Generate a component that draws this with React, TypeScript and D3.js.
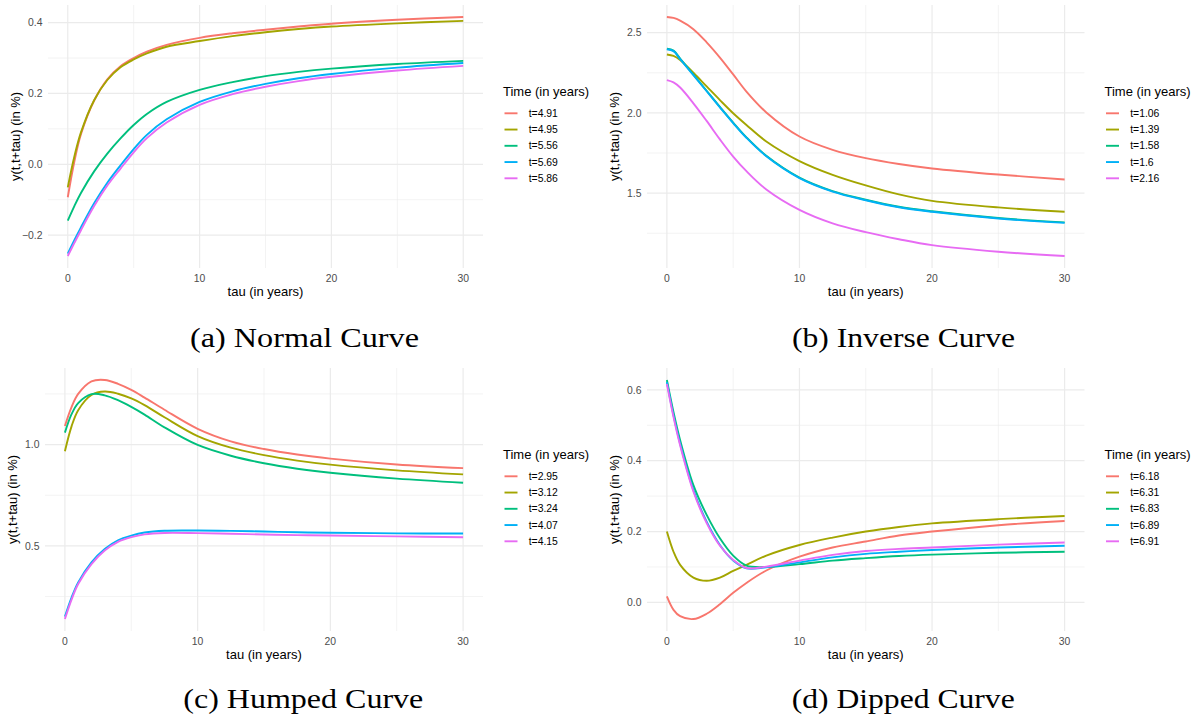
import React from "react";
import * as d3 from "d3";

// ---------- data ----------
const tau = [0, 0.5, 1, 2, 3, 4, 5, 6, 7.5, 10, 12.5, 15, 17.5, 20, 25, 30];

const normalLabels = ["t=4.91", "t=4.95", "t=5.56", "t=5.69", "t=5.86"];
const normal491 = [-0.093, 0.008, 0.085, 0.180, 0.240, 0.277, 0.300, 0.318, 0.337, 0.357, 0.370, 0.380, 0.389, 0.397, 0.408, 0.416];
const normal495 = [-0.065, 0.022, 0.090, 0.181, 0.238, 0.274, 0.296, 0.313, 0.332, 0.348, 0.362, 0.373, 0.382, 0.389, 0.398, 0.405];
const normal556 = [-0.159, -0.118, -0.081, -0.020, 0.030, 0.073, 0.111, 0.142, 0.176, 0.210, 0.232, 0.249, 0.261, 0.270, 0.283, 0.292];
const normal569 = [-0.252, -0.214, -0.178, -0.110, -0.052, -0.003, 0.043, 0.083, 0.127, 0.176, 0.206, 0.227, 0.243, 0.255, 0.273, 0.286];
const normal586 = [-0.259, -0.222, -0.186, -0.118, -0.060, -0.012, 0.034, 0.074, 0.118, 0.168, 0.198, 0.219, 0.235, 0.247, 0.265, 0.278];

const inverseLabels = ["t=1.06", "t=1.39", "t=1.58", "t=1.6", "t=2.16"];
const inverse106 = [2.598, 2.592, 2.575, 2.522, 2.440, 2.345, 2.240, 2.133, 2.003, 1.853, 1.770, 1.718, 1.682, 1.654, 1.616, 1.585];
const inverse139 = [2.364, 2.355, 2.330, 2.250, 2.165, 2.080, 1.998, 1.925, 1.822, 1.700, 1.614, 1.548, 1.492, 1.452, 1.411, 1.384];
const inverse158 = [2.400, 2.388, 2.338, 2.238, 2.138, 2.038, 1.940, 1.848, 1.733, 1.597, 1.513, 1.459, 1.415, 1.387, 1.345, 1.318];
const inverse160 = [2.397, 2.385, 2.335, 2.235, 2.135, 2.035, 1.937, 1.845, 1.730, 1.594, 1.510, 1.456, 1.412, 1.384, 1.342, 1.315];
const inverse216 = [2.204, 2.190, 2.158, 2.060, 1.950, 1.835, 1.728, 1.637, 1.523, 1.396, 1.312, 1.257, 1.213, 1.176, 1.135, 1.108];

const humpedLabels = ["t=2.95", "t=3.12", "t=3.24", "t=4.07", "t=4.15"];
const humped295 = [1.092, 1.185, 1.250, 1.312, 1.319, 1.300, 1.270, 1.232, 1.172, 1.078, 1.016, 0.978, 0.951, 0.931, 0.902, 0.884];
const humped312 = [0.967, 1.090, 1.170, 1.245, 1.262, 1.251, 1.228, 1.195, 1.135, 1.042, 0.985, 0.948, 0.921, 0.901, 0.873, 0.853];
const humped324 = [1.059, 1.150, 1.205, 1.249, 1.243, 1.219, 1.186, 1.148, 1.085, 0.998, 0.945, 0.908, 0.881, 0.861, 0.832, 0.812];
const humped407 = [0.151, 0.245, 0.320, 0.419, 0.485, 0.528, 0.551, 0.566, 0.575, 0.576, 0.574, 0.571, 0.567, 0.565, 0.562, 0.561];
const humped415 = [0.139, 0.235, 0.312, 0.410, 0.477, 0.520, 0.543, 0.557, 0.564, 0.563, 0.560, 0.556, 0.553, 0.551, 0.547, 0.543];

const dippedLabels = ["t=6.18", "t=6.31", "t=6.83", "t=6.89", "t=6.91"];
const dipped618 = [0.017, -0.021, -0.039, -0.047, -0.032, -0.005, 0.027, 0.055, 0.090, 0.129, 0.155, 0.172, 0.189, 0.200, 0.218, 0.230];
const dipped631 = [0.200, 0.143, 0.106, 0.070, 0.061, 0.070, 0.089, 0.106, 0.132, 0.162, 0.183, 0.200, 0.213, 0.223, 0.235, 0.244];
const dipped683 = [0.628, 0.537, 0.458, 0.331, 0.247, 0.181, 0.132, 0.104, 0.100, 0.108, 0.118, 0.125, 0.131, 0.135, 0.140, 0.143];
const dipped689 = [0.622, 0.528, 0.448, 0.317, 0.228, 0.162, 0.118, 0.096, 0.099, 0.113, 0.127, 0.137, 0.143, 0.148, 0.155, 0.160];
const dipped691 = [0.617, 0.523, 0.443, 0.313, 0.224, 0.160, 0.120, 0.097, 0.101, 0.118, 0.134, 0.145, 0.151, 0.155, 0.163, 0.169];

const xTicks = [0, 10, 20, 30];
const xMinor = [5, 15, 25];
const normalTicks = [-0.2, 0.0, 0.2, 0.4];
const normalMinor = [-0.1, 0.1, 0.3];
const inverseTicks = [1.5, 2.0, 2.5];
const inverseMinor = [1.25, 1.75, 2.25];
const humpedTicks = [0.5, 1.0];
const humpedMinor = [0.25, 0.75, 1.25];
const dippedTicks = [0.0, 0.2, 0.4, 0.6];
const dippedMinor = [0.1, 0.3, 0.5];

const colors = ["#F8766D", "#A3A500", "#00BF7D", "#00B0F6", "#E76BF3"];

const captions = ["(a) Normal Curve", "(b) Inverse Curve", "(c) Humped Curve", "(d) Dipped Curve"];

type PanelSpec = {
  left: number; right: number; top: number; bottom: number;
  series: number[][]; labels: string[]; ticks: number[]; minor: number[];
  caption: string; capX: number; capY: number; capW: number;
};

const panels: PanelSpec[] = [
  { left: 48, right: 483, top: 5, bottom: 268, series: [normal491, normal495, normal556, normal569, normal586], labels: normalLabels, ticks: normalTicks, minor: normalMinor, caption: captions[0], capX: 190, capY: 346.7, capW: 229 },
  { left: 647, right: 1084.5, top: 5, bottom: 268, series: [inverse106, inverse139, inverse158, inverse160, inverse216], labels: inverseLabels, ticks: inverseTicks, minor: inverseMinor, caption: captions[1], capX: 792, capY: 346.7, capW: 223 },
  { left: 45, right: 483, top: 368, bottom: 631, series: [humped295, humped312, humped324, humped407, humped415], labels: humpedLabels, ticks: humpedTicks, minor: humpedMinor, caption: captions[2], capX: 183.3, capY: 708.3, capW: 240 },
  { left: 647, right: 1084.5, top: 368, bottom: 631, series: [dipped618, dipped631, dipped683, dipped689, dipped691], labels: dippedLabels, ticks: dippedTicks, minor: dippedMinor, caption: captions[3], capX: 791.7, capY: 708.3, capW: 223 },
];

const SANS = "'Liberation Sans', Arial, sans-serif";

function Panel({ p }: { p: PanelSpec }) {
  const xExt = d3.extent(tau) as [number, number];
  const xPad = (xExt[1] - xExt[0]) * 0.05;
  const x = d3.scaleLinear().domain([xExt[0] - xPad, xExt[1] + xPad]).range([p.left, p.right]);
  const all = p.series.flat();
  const yExt = d3.extent(all) as [number, number];
  const yPad = (yExt[1] - yExt[0]) * 0.05;
  const y = d3.scaleLinear().domain([yExt[0] - yPad, yExt[1] + yPad]).range([p.bottom, p.top]);
  const line = d3.line<number>().x((_, i) => x(tau[i])).y((d) => y(d)).curve(d3.curveCatmullRom.alpha(0.5));
  const fmt = d3.format(".1f");
  const hasQuarter = p.ticks.some((t) => Math.abs(t * 10 - Math.round(t * 10)) > 1e-9);
  const yFmt = (v: number) => (hasQuarter ? String(v) : fmt(v).replace("-", "\u2212"));
  const legX = p.right + 20;
  const legTop = (p.top + p.bottom) / 2 - 44.5;
  const midY = (p.top + p.bottom) / 2;
  const midX = (p.left + p.right) / 2;
  return (
    <g>
      {p.minor.filter((v) => v >= y.domain()[0] && v <= y.domain()[1]).map((v) => (
        <line key={"ym" + v} x1={p.left} x2={p.right} y1={y(v)} y2={y(v)} stroke="#EBEBEB" strokeWidth={0.6} />
      ))}
      {xMinor.map((v) => (
        <line key={"xm" + v} x1={x(v)} x2={x(v)} y1={p.top} y2={p.bottom} stroke="#EBEBEB" strokeWidth={0.6} />
      ))}
      {p.ticks.map((v) => (
        <line key={"y" + v} x1={p.left} x2={p.right} y1={y(v)} y2={y(v)} stroke="#EBEBEB" strokeWidth={1.2} />
      ))}
      {xTicks.map((v) => (
        <line key={"x" + v} x1={x(v)} x2={x(v)} y1={p.top} y2={p.bottom} stroke="#EBEBEB" strokeWidth={1.2} />
      ))}
      {p.series.map((s, i) => (
        <path key={"s" + i} d={line(s) || ""} fill="none" stroke={colors[i]} strokeWidth={1.9} />
      ))}
      {xTicks.map((v) => (
        <text key={"xt" + v} x={x(v)} y={p.bottom + 13.7} textAnchor="middle" fontFamily={SANS} fontSize={10.4} fill="#4D4D4D">{v}</text>
      ))}
      {p.ticks.map((v) => (
        <text key={"yt" + v} x={p.left - 5.5} y={y(v)} dy="0.35em" textAnchor="end" fontFamily={SANS} fontSize={10.4} fill="#4D4D4D">{yFmt(v)}</text>
      ))}
      <text x={midX} y={p.bottom + 27.5} textAnchor="middle" fontFamily={SANS} fontSize={13} fill="#000">tau (in years)</text>
      <text transform={`translate(${p.left - 28.5},${midY}) rotate(-90)`} textAnchor="middle" fontFamily={SANS} fontSize={13} fill="#000">y(t,t+tau) (in %)</text>
      <text x={legX} y={legTop + 4} fontFamily={SANS} fontSize={13} fill="#000">Time (in years)</text>
      {p.labels.map((lab, i) => {
        const yy = legTop + 21.3 + i * 16.25;
        return (
          <g key={"lg" + i}>
            <line x1={legX + 1.5} x2={legX + 14.5} y1={yy} y2={yy} stroke={colors[i]} strokeWidth={1.9} />
            <text x={legX + 25.7} y={yy} dy="0.35em" fontFamily={SANS} fontSize={10.4} fill="#000">{lab}</text>
          </g>
        );
      })}
      <text x={p.capX} y={p.capY} textLength={p.capW} lengthAdjust="spacingAndGlyphs" fontFamily="'Liberation Serif', 'Times New Roman', serif" fontSize={27} fill="#000">{p.caption}</text>
    </g>
  );
}

export default function App() {
  return (
    <svg width={1201} height={718} style={{ position: "absolute", left: 0, top: 0, background: "#fff" }}>
      <rect width={1201} height={718} fill="#fff" />
      {panels.map((p, i) => (
        <Panel key={i} p={p} />
      ))}
    </svg>
  );
}
